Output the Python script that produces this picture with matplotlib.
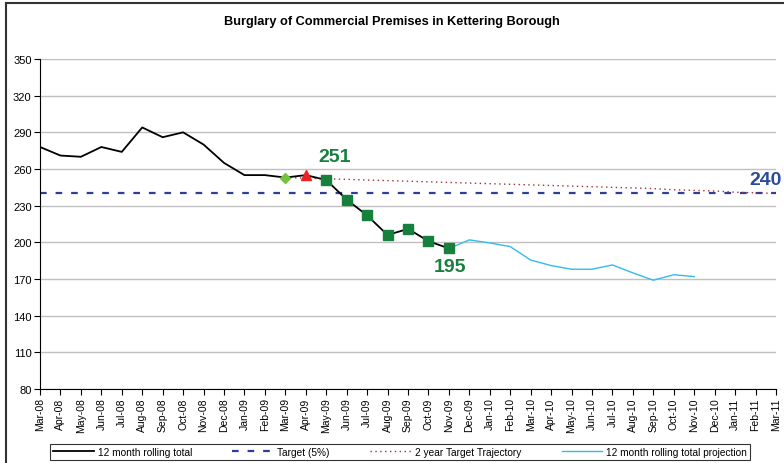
import numpy as np
import matplotlib.pyplot as plt
from matplotlib.lines import Line2D

plt.rcParams['font.family'] = ['Liberation Sans', 'DejaVu Sans']

# month labels Mar-08 .. Mar-11
months = ['Mar-08', 'Apr-08', 'May-08', 'Jun-08', 'Jul-08', 'Aug-08', 'Sep-08', 'Oct-08',
          'Nov-08', 'Dec-08', 'Jan-09', 'Feb-09', 'Mar-09', 'Apr-09', 'May-09', 'Jun-09',
          'Jul-09', 'Aug-09', 'Sep-09', 'Oct-09', 'Nov-09', 'Dec-09', 'Jan-10', 'Feb-10',
          'Mar-10', 'Apr-10', 'May-10', 'Jun-10', 'Jul-10', 'Aug-10', 'Sep-10', 'Oct-10',
          'Nov-10', 'Dec-10', 'Jan-11', 'Feb-11', 'Mar-11']

# 12 month rolling total, Mar-08 .. Nov-09
rolling = [278, 271, 270, 278, 274, 294, 286, 290, 280, 265, 255, 255, 253, 255, 251,
           235, 222, 206, 211, 201, 195]

# projection, Nov-09 .. Nov-10
projection = [195, 202, 199.5, 196.5, 185.5, 181, 178, 178, 181.5, 175, 169, 173.5, 172]

# 2 year target trajectory, Mar-09 .. Mar-11
trajectory = [253, 252.5, 252, 251.5, 251, 250.5, 250, 249.5, 249, 248.5, 248, 247.5, 247,
              246.5, 246, 245.5, 245, 244.5, 244, 243, 242.5, 242, 241, 240.5, 240]

target = 240

x_roll = np.arange(len(rolling))
x_proj = np.arange(len(projection)) + months.index('Nov-09')
x_traj = np.arange(len(trajectory)) + months.index('Mar-09')
x_all = np.arange(len(months))

green = '#17803c'

fig = plt.figure(figsize=(7.84, 4.64), dpi=100)
ax = fig.add_axes([40 / 784, 1 - 390 / 464, 736 / 784, 330 / 464])

ax.plot(x_all, [target] * len(months), color='#2b3f9a', ls=(0, (3, 4)), lw=1.6,
        label='Target (5%)', zorder=2)
ax.plot(x_traj, trajectory, color='#a03030', ls=(0, (1, 2.5)), lw=1.0,
        label='2 year Target Trajectory', zorder=2)
ax.plot(x_proj, projection, color='#33bbee', lw=1.0,
        label='12 month rolling total projection', zorder=3)
ax.plot(x_roll, rolling, color='black', lw=1.3, label='12 month rolling total', zorder=4)

# markers
i_may = months.index('May-09')
ax.plot(x_roll[i_may:], rolling[i_may:], ls='none', marker='s', ms=6.5,
        color=green, mec=green, zorder=5)
i_mar = months.index('Mar-09')
ax.plot(x_roll[i_mar], rolling[i_mar], ls='none', marker='D', ms=5,
        color='#77c043', zorder=5)
i_apr = months.index('Apr-09')
ax.plot(x_roll[i_apr], rolling[i_apr], ls='none', marker='^', ms=7,
        color='#ee2222', zorder=5)

# labels
ax.text(i_may + 0.4, 270, '251', color=green, fontsize=14, fontweight='bold',
        ha='center', va='center')
ax.text(len(rolling) - 1 + 0.05, 180, '195', color=green, fontsize=14, fontweight='bold',
        ha='center', va='center')
ax.text(34.7, 251.5, '240', color='#2b4b9e', fontsize=14, fontweight='bold',
        ha='left', va='center', clip_on=False)

ax.set_xlim(0, len(months) - 1)
ax.set_ylim(80, 350)
ax.set_yticks(np.arange(80, 351, 30))
ax.set_xticks(x_all)
ax.set_xticklabels(months, rotation=90, fontsize=7.5)
ax.tick_params(axis='y', labelsize=8, length=4, width=0.8, pad=2)
ax.tick_params(axis='x', length=4, width=0.8, pad=2)
ax.grid(axis='y', color='#c0c0c0', lw=1.0)
ax.set_axisbelow(True)
for s in ['top', 'right']:
    ax.spines[s].set_visible(False)
ax.spines['left'].set_linewidth(0.8)
ax.spines['bottom'].set_linewidth(0.8)

fig.text(0.5, 1 - 22 / 464, 'Burglary of Commercial Premises in Kettering Borough',
         ha='center', va='center', fontsize=9.2, fontweight='bold')

handles, labels = ax.get_legend_handles_labels()
order = [3, 0, 1, 2]
leg = fig.legend([handles[i] for i in order], [labels[i] for i in order],
                 loc='center', bbox_to_anchor=(400 / 784, 1 - 453 / 464), ncol=4,
                 fontsize=7.3, frameon=True, fancybox=False, edgecolor='black',
                 handlelength=4.0, columnspacing=4.0, borderpad=0.3, handletextpad=0.4)
leg.get_frame().set_linewidth(0.8)

# outer chart frame
fig.add_artist(Line2D([6 / 784, 6 / 784], [0, 1 - 4 / 464], color='#333333', lw=1.5))
fig.add_artist(Line2D([6 / 784, 1], [1 - 4 / 464, 1 - 4 / 464], color='#333333', lw=1.5))

fig.savefig('out.png', dpi=100)
